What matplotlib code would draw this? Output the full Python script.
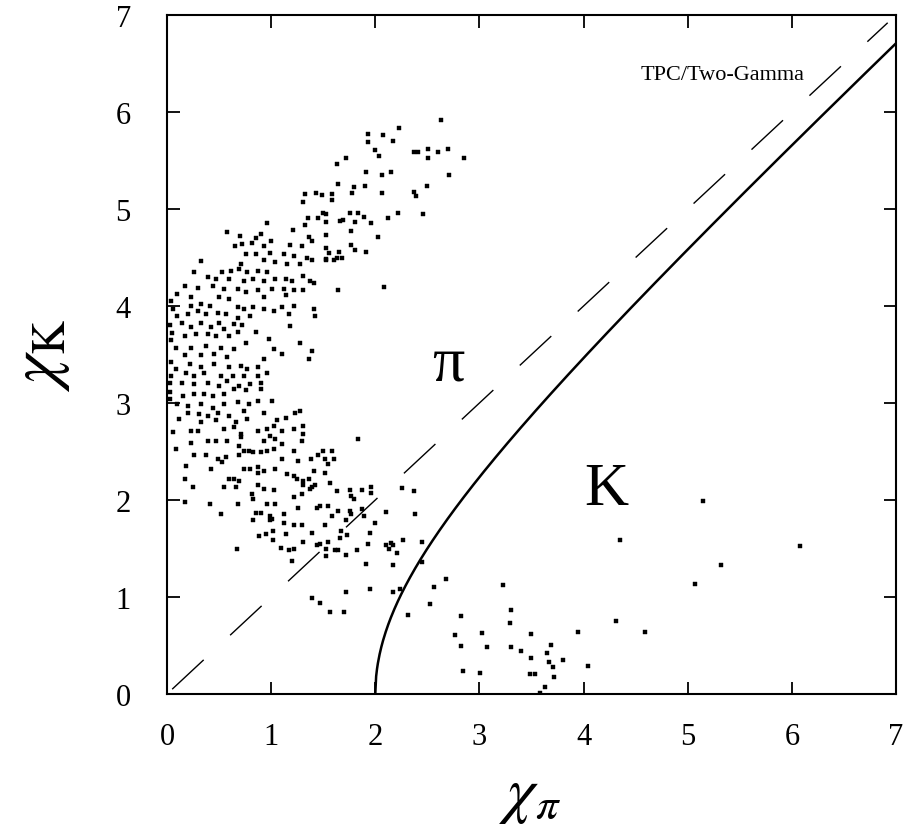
import numpy as np
import matplotlib
matplotlib.use("Agg")
import matplotlib.pyplot as plt

plt.rcParams['font.family'] = ['Liberation Serif', 'DejaVu Serif']
plt.rcParams['mathtext.fontset'] = 'stix'

# ---- data: (chi_pi, chi_K) ----
upper_arm = [
    (2.63,5.92),(1.93,5.77),(2.07,5.76),(2.23,5.83),(1.93,5.69),(2.17,5.70),(2.00,5.61),(2.04,5.55),
    (2.37,5.59),(2.41,5.59),(2.51,5.62),(2.60,5.59),(2.70,5.62),(2.51,5.53),(2.85,5.53),(1.72,5.53),
    (1.63,5.46),(1.91,5.38),(2.06,5.35),(2.15,5.38),(2.71,5.35),(1.64,5.26),(1.80,5.23),(1.90,5.24),
    (1.78,5.16),(2.06,5.17),(2.37,5.18),(2.39,5.13),(2.50,5.24),(1.58,5.15),(1.58,5.09),(1.76,4.96),
    (1.83,4.96),(1.89,4.92),(2.12,4.91),(2.22,4.96),(2.46,4.95),(1.66,4.88),(1.69,4.89),(1.81,4.87),
    (1.96,4.86),(1.77,4.77),(2.03,4.71),(1.77,4.63),(1.81,4.58),(1.91,4.56),(1.65,4.56),(1.56,4.55),
    (1.63,4.49),(1.68,4.50),(1.53,4.47),(1.64,4.16),(2.08,4.20),(1.53,4.95),(1.53,4.87),(1.53,4.73),
    (1.33,5.15),(1.43,5.17),(1.49,5.14),(1.31,5.07),(1.50,4.96),(1.35,4.91),(1.45,4.91),(0.96,4.86),
    (1.33,4.84),(0.58,4.76),(0.70,4.72),(0.90,4.74),(1.21,4.78),(1.36,4.71),(0.85,4.70),(1.00,4.67),
    (0.65,4.62),(0.72,4.64),(0.82,4.65),(0.93,4.62),(1.18,4.63),(1.30,4.62),(1.39,4.67),(1.53,4.60),
]

core = [
    (0.76,4.54),(0.85,4.54),(0.99,4.55),(1.12,4.54),(1.22,4.52),(1.34,4.50),(1.53,4.48),(0.33,4.46),
    (0.71,4.43),(0.93,4.47),(1.04,4.45),(1.15,4.43),(1.28,4.43),(1.39,4.47),(1.60,4.47),
    (0.26,4.35),(0.39,4.30),(0.53,4.35),(0.61,4.36),(0.69,4.38),(0.77,4.35),(0.87,4.36),(0.96,4.35),
    (0.47,4.28),(0.60,4.28),(0.74,4.26),(0.83,4.28),(0.93,4.26),(1.04,4.28),(1.14,4.28),(1.20,4.26),
    (1.31,4.31),(1.37,4.26),
    (0.17,4.21),(0.30,4.19),(0.44,4.21),(0.55,4.18),(0.68,4.18),(0.76,4.14),(0.87,4.16),(1.01,4.18),
    (1.12,4.18),(1.22,4.16),(1.31,4.17),(1.41,4.24),(0.10,4.12),(0.23,4.09),(0.50,4.09),(0.60,4.07),
    (0.93,4.09),(1.14,4.11),
    (0.04,4.05),(0.06,3.97),(0.10,3.90),(0.23,4.00),(0.33,4.02),(0.41,4.00),(0.20,3.92),(0.30,3.95),
    (0.37,3.92),(0.49,3.93),(0.57,3.92),(0.68,3.99),(0.74,3.97),(0.83,3.99),(0.93,3.97),(1.03,3.95),
    (1.10,3.99),(1.22,4.00),(1.41,3.97),(1.42,3.90),(0.68,3.88),(0.80,3.90),(1.17,3.92),
    (0.03,3.80),(0.05,3.72),(0.04,3.65),(0.14,3.83),(0.23,3.78),(0.33,3.83),(0.42,3.78),(0.50,3.83),
    (0.55,3.76),(0.64,3.81),(0.72,3.80),(0.17,3.69),(0.28,3.71),(0.39,3.71),(0.47,3.69),(0.60,3.69),
    (0.68,3.73),(0.85,3.73),(1.18,3.79),(0.98,3.66),(1.28,3.62),
    (0.09,3.57),(0.23,3.57),(0.37,3.59),(0.52,3.57),(0.64,3.56),(0.76,3.62),(1.03,3.56),(1.10,3.51),
    (1.39,3.54),(1.36,3.45),(0.17,3.49),(0.33,3.49),(0.45,3.51),(0.58,3.47),(0.93,3.45),
    (0.04,3.42),(0.09,3.35),(0.04,3.28),(0.03,3.21),(0.22,3.40),(0.33,3.37),(0.45,3.40),(0.60,3.37),
    (0.71,3.38),(0.77,3.35),(0.87,3.37),(0.96,3.31),(0.18,3.31),(0.26,3.28),(0.36,3.31),(0.52,3.28),
    (0.63,3.28),(0.74,3.28),(0.87,3.28),(0.14,3.21),(0.26,3.20),(0.39,3.21),(0.50,3.18),(0.58,3.23),
    (0.69,3.18),(0.80,3.20),(0.90,3.21),
    (0.03,3.11),(0.03,3.04),(0.64,3.14),(0.76,3.13),(0.90,3.14),(0.15,3.07),(0.26,3.09),(0.36,3.09),
    (0.44,3.07),(0.55,3.09),(0.68,3.01),(0.79,2.99),(0.87,3.02),(1.01,3.02),
]

lower_arm = [
    (0.10,2.99),(0.20,2.97),(0.33,2.99),(0.44,2.95),(0.55,2.99),(0.20,2.90),(0.31,2.89),(0.39,2.87),
    (0.49,2.90),(0.60,2.87),(0.74,2.92),(0.93,2.90),(0.12,2.84),(0.33,2.80),(0.47,2.82),(0.66,2.80),
    (0.77,2.84),(1.06,2.82),(1.14,2.85),(1.23,2.90),(1.28,2.92),
    (0.06,2.70),(0.23,2.71),(0.30,2.71),(0.55,2.73),(0.64,2.75),(0.71,2.68),(0.87,2.71),(0.96,2.73),
    (1.03,2.76),(0.99,2.66),(1.10,2.71),(1.22,2.73),(1.31,2.76),(1.31,2.68),(0.23,2.59),(0.39,2.61),
    (0.47,2.61),(0.58,2.61),(0.71,2.65),(0.93,2.61),(1.04,2.63),(1.10,2.58),(1.30,2.61),
    (0.09,2.53),(0.69,2.56),(0.74,2.51),(0.79,2.51),(0.83,2.49),(0.90,2.49),(0.96,2.51),(1.03,2.53),
    (1.22,2.51),(1.50,2.51),(1.58,2.51),(0.26,2.46),(0.37,2.46),(0.49,2.42),(0.57,2.44),(0.69,2.46),
    (1.10,2.42),(1.26,2.40),(1.38,2.42),(1.45,2.46),(1.52,2.42),(1.60,2.42),(0.18,2.35),(0.42,2.32),
    (0.53,2.39),
    (0.74,2.32),(0.80,2.32),(0.87,2.34),(0.87,2.28),(0.93,2.30),(1.04,2.32),(1.15,2.27),(1.22,2.25),
    (1.25,2.22),(1.31,2.20),(1.36,2.22),(1.41,2.30),(1.52,2.28),(0.17,2.22),(0.60,2.22),(0.64,2.22),
    (0.69,2.20),(0.55,2.13),(0.66,2.13),(0.25,2.13),(0.87,2.15),(0.93,2.11),(1.03,2.10),(1.31,2.15),
    (1.39,2.13),(1.57,2.18),(1.55,2.37),(1.37,2.11),(1.42,2.15),(1.44,1.92),
    (0.17,1.98),(0.41,1.96),(0.68,1.96),(0.82,2.06),(0.83,2.01),(0.96,1.96),(1.04,1.96),(1.22,2.03),
    (1.30,2.06),(1.26,1.92),(1.47,1.94),(1.55,1.94),(0.52,1.86),(0.85,1.87),(0.90,1.87),(0.99,1.84),
    (1.01,1.80),(1.12,1.86),(1.58,1.84),(0.83,1.79),(1.22,1.74),(1.30,1.74),(1.52,1.74),
    (1.83,2.63),(1.63,2.09),(1.76,2.10),(1.77,2.04),(1.80,2.01),(1.87,2.10),(1.96,2.13),(1.96,2.07),
    (2.26,2.12),(2.37,2.09),(1.64,1.89),(1.76,1.89),(1.77,1.86),(1.87,1.91),(1.89,1.84),(2.10,1.88),
    (2.38,1.86),(1.72,1.79),(2.00,1.76),(1.39,1.66),(1.67,1.68),(1.73,1.64),(1.95,1.66),(1.31,1.57),
    (1.44,1.54),(1.47,1.55),(1.55,1.57),(1.66,1.61),(1.93,1.55),(2.10,1.54),(2.15,1.56),(2.17,1.54),
    (2.13,1.50),(2.27,1.59),(2.45,1.57),(1.53,1.49),(1.61,1.48),(1.64,1.48),(1.72,1.43),(1.82,1.48),
    (1.53,1.42),(2.21,1.45),(1.91,1.34),(2.17,1.33),(2.45,1.36),(2.68,1.19),(2.56,1.10),(1.72,1.05),
    (1.95,1.08),(2.17,1.05),(2.24,1.08),(1.39,0.99),
    (0.67,1.49),(0.99,1.79),(1.12,1.76),(0.88,1.63),(0.95,1.65),(1.02,1.68),(1.14,1.65),(1.02,1.59),
    (1.09,1.51),(1.17,1.48),(1.22,1.50),(1.20,1.37),(1.47,0.94),(1.57,0.85),(1.70,0.85),
]

low_region = [
    (2.31,0.81),(2.53,0.93),(3.23,1.12),(3.30,0.87),(3.29,0.73),(2.82,0.80),(2.77,0.61),(3.02,0.63),
    (3.50,0.62),(3.95,0.64),(2.82,0.50),(3.07,0.49),(3.30,0.48),(3.40,0.44),(3.69,0.51),(3.65,0.42),
    (3.50,0.37),(3.80,0.35),(3.67,0.33),(3.71,0.28),(4.04,0.29),(2.84,0.24),(3.01,0.22),(3.49,0.21),
    (3.53,0.21),(3.72,0.18),(3.63,0.07),(3.58,0.01),
    (5.15,1.99),(4.35,1.59),(6.08,1.53),(5.32,1.33),(5.07,1.13),(4.31,0.75),(4.59,0.64),
]

x_ticks = [0, 1, 2, 3, 4, 5, 6, 7]
y_ticks = [0, 1, 2, 3, 4, 5, 6, 7]
pion_mass_cut = 2.0          # chi_K^2 = chi_pi^2 - cut^2 (solid boundary)
diag_range = [0.05, 6.92]    # dashed chi_K = chi_pi line
title_text = "TPC/Two-Gamma"

pts = np.array(upper_arm + core + lower_arm + low_region)

fig = plt.figure(figsize=(9.08, 8.29), dpi=100)
ax = fig.add_axes([0.1839, 0.1616, 0.8029, 0.8191])

ax.plot(pts[:, 0], pts[:, 1], linestyle='none', marker='s', ms=3.2,
        mfc='black', mec='black', mew=0.3)

ax.plot(diag_range, diag_range, color='black', lw=1.0, dashes=(31, 26))

xc = np.linspace(pion_mass_cut, 7.0, 600)
ax.plot(xc, np.sqrt(np.clip(xc**2 - pion_mass_cut**2, 0, None)), color='black', lw=1.8)

ax.text(2.70, 3.40, 'π', fontsize=46, ha='center', va='center')
ax.text(4.22, 2.11, 'K', fontsize=44, ha='center', va='center')
ax.text(6.12, 6.39, title_text, fontsize=16, ha='right', va='center')

ax.set_xlim(0, 7)
ax.set_ylim(0, 7)
ax.set_xticks(x_ticks)
ax.set_yticks(y_ticks)
ax.tick_params(direction='in', length=9, width=1.3, top=True, right=True, labelsize=22)
ax.tick_params(axis='x', pad=20)
ax.tick_params(axis='y', pad=26)
for s in ax.spines.values():
    s.set_linewidth(1.5)

fig.text(42/908, 1 - 355/829, r'$\chi_{\mathrm{K}}$', fontsize=48, rotation=90,
         ha='center', va='center')
fig.text(530/908, 1 - 797/829, r'$\chi_{\pi}$', fontsize=46, ha='center', va='center')

fig.savefig('out.png', dpi=100)
